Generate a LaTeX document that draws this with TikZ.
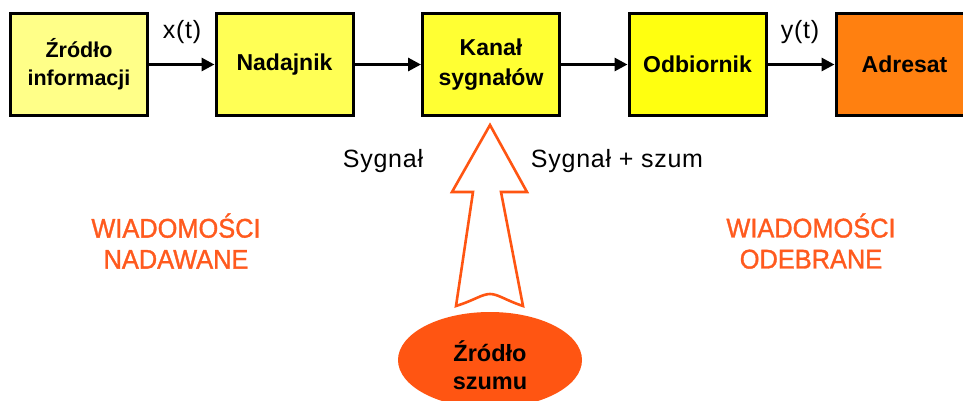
\documentclass[tikz,border=0pt]{standalone}
\usepackage{fontspec}
\setmainfont{Liberation Sans}
\newfontfamily\narrowfont[FakeStretch=0.94,FakeBold=1.2]{Liberation Sans}
\newfontfamily\spacedfont[LetterSpace=3]{Liberation Sans}
\usetikzlibrary{arrows.meta,shapes.geometric}

\definecolor{ylA}{HTML}{FFFF88}
\definecolor{ylB}{HTML}{FFFF55}
\definecolor{ylC}{HTML}{FFFF33}
\definecolor{ylD}{HTML}{FFFF10}
\definecolor{destorange}{HTML}{FF8010}
\definecolor{noisered}{HTML}{FF5512}
\definecolor{msgred}{HTML}{FF5A1E}

\tikzset{
  blockbox/.style={draw=black, line width=3pt, minimum width=137pt, minimum height=102pt,
    inner sep=0pt, align=center, font=\fontsize{23}{30}\selectfont\bfseries},
  sigflow/.style={line width=3pt, -{Triangle[length=13pt,width=13pt]}},
  siglabel/.style={font=\spacedfont\fontsize{25}{30}\selectfont},
  msglabel/.style={text=msgred, align=center, font=\narrowfont\fontsize{27}{31}\selectfont},
}

\begin{document}
\begin{tikzpicture}[x=1pt,y=-1pt]
  \useasboundingbox (0,0) rectangle (963,400);
  \fill[white] (0,0) rectangle (963,400);

  % signal chain
  \node[blockbox, fill=ylA, font=\fontsize{21.5}{28}\selectfont\bfseries] (src) at (79,64.5) {Źródło\\informacji};
  \node[blockbox, fill=ylB] (tx)  at (284.5,64.5) {Nadajnik};
  \node[blockbox, fill=ylC] (ch)  at (491,64.5) {Kanał\\sygnałów};
  \node[blockbox, fill=ylD] (rx)  at (697.5,64.5) {Odbiornik};
  \node[blockbox, fill=destorange] (dst) at (904.5,64.5) {Adresat};

  \draw[sigflow] (src) -- (tx);
  \draw[sigflow] (tx) -- (ch);
  \draw[sigflow] (ch) -- (rx);
  \draw[sigflow] (rx) -- (dst);

  \node[siglabel] (xt) at (182,32) {x(t)};
  \node[siglabel] (yt) at (800,32) {y(t)};

  % noise source and its hollow arrow into the channel
  \node[ellipse, fill=noisered, minimum width=184pt, minimum height=96pt, inner sep=0pt] (noise) at (490,360) {};
  \node[align=center, font=\fontsize{23.5}{28}\selectfont\bfseries] (noisetext) at (490,365) {Źródło\\szumu};
  \draw[noisered, line width=2.6pt, line join=miter, fill=white]
    (490,125) -- (527,192) -- (501,192) -- (523,306)
    .. controls (505,300) and (498,294) .. (490,294)
    .. controls (482,294) and (475,300) .. (456,306)
    -- (473,192) -- (452,192) -- cycle;

  \node[siglabel] (sin) at (383,161) {Sygnał};
  \node[siglabel] (sout) at (617,161) {Sygnał + szum};

  % message labels
  \node[msglabel] (sent) at (176,241) {WIADOMOŚCI\\NADAWANE};
  \node[msglabel] (recv) at (811,241) {WIADOMOŚCI\\ODEBRANE};
\end{tikzpicture}
\end{document}
